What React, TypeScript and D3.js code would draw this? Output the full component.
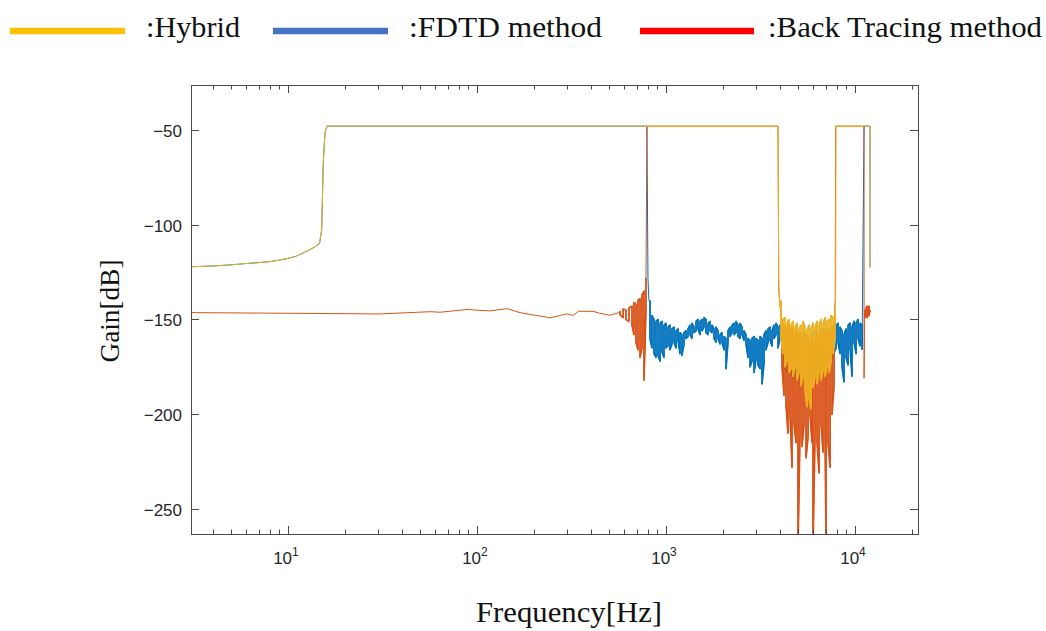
import React from 'react';
import * as d3 from 'd3';

const W = 1046;
const H = 631;
const BOX = { left: 191, right: 918, top: 85, bottom: 534 };

const freqDomain: [number, number] = [3.07, 21544];
const gainDomain: [number, number] = [-263.2, -26.3];
const yTickValues = [-250, -200, -150, -100, -50];
const xTickExponents = [1, 2, 3, 4];

const plateau = -48;

// FDTD / Hybrid shared low-frequency rise
const lowFreq = [3.07, 4, 5, 6, 7, 8, 9, 10, 11, 12, 13, 14, 14.7, 15.08, 15.38, 15.7, 16.1];
const lowGain = [-122.2, -121.8, -121.2, -120.5, -120, -119.5, -118.7, -117.8, -116.7, -115, -113.3, -111.5, -109.8, -102.8, -67.5, -51.7, -48];

// Back tracing: low-frequency floor
const btLowFreq = [3.09, 9.07, 30.7, 56.6, 63.7, 91.8, 95.6, 117, 144, 169, 190, 234, 242, 297, 324, 344, 410, 446, 505, 560];
const btLowGain = [-146.4, -146.7, -147.1, -145.9, -146.2, -144.6, -145, -145.5, -144.3, -146.4, -147.3, -148.8, -149.2, -147.1, -147.8, -145.7, -145.7, -146.7, -147.8, -146.5];

// [freq, upper, lower]
const btPreNoise: [number, number, number][] = [
  [571, -145.5, -147.5], [593, -144.5, -149], [614, -145, -150], [637, -144, -151],
  [661, -143, -153], [677, -141, -158], [694, -142, -162], [711, -140, -166],
  [729, -139, -170], [747, -137, -165], [765, -135, -182], [784, -128, -145],
];

const btMidNoise: [number, number, number][] = [
  [4111, -150, -175], [4212, -153, -190], [4316, -155, -195], [4423, -152, -210],
  [4532, -156, -200], [4644, -154, -228], [4758, -158, -205], [4876, -155, -215],
  [4996, -160, -270], [5119, -157, -210], [5246, -159, -217], [5375, -162, -205],
  [5508, -158, -223], [5644, -160, -212], [5783, -163, -200], [5926, -159, -215],
  [5997, -165, -270], [6148, -160, -210], [6298, -158, -215], [6453, -161, -231],
  [6612, -157, -205], [6775, -159, -220], [6943, -156, -210], [7028, -158, -270],
  [7201, -155, -215], [7379, -157, -228], [7561, -154, -200], [7747, -152, -185],
];

const btEndNoise: [number, number, number][] = [
  [11300, -145, -149], [11442, -144, -148], [11600, -143, -149], [11724, -144, -147],
  [11870, -143, -148], [12013, -145, -145],
];

const fdtdNoise: [number, number, number][] = [
  [823, -140, -160], [843, -148, -165], [864, -150, -168], [885, -151, -170],
  [907, -150, -169], [930, -152, -172], [953, -151, -167], [976, -153, -170],
  [1000, -152, -165], [1025, -154, -164], [1050, -153, -166], [1076, -155, -163],
  [1103, -154, -162], [1130, -156, -165], [1158, -155, -161], [1186, -157, -168],
  [1215, -158, -169], [1245, -157, -163], [1276, -156, -160], [1308, -155, -159],
  [1340, -153, -158], [1373, -152, -160], [1407, -154, -157], [1442, -151, -156],
  [1477, -150, -155], [1514, -151, -158], [1551, -150, -156], [1589, -149, -154],
  [1628, -150, -157], [1669, -152, -158], [1710, -151, -156], [1752, -153, -157],
  [1795, -155, -160], [1839, -154, -162], [1885, -156, -160], [1931, -158, -163],
  [1979, -157, -162], [2028, -159, -166], [2078, -160, -176], [2129, -156, -162],
  [2182, -154, -159], [2235, -153, -157], [2291, -152, -158], [2347, -151, -157],
  [2405, -153, -159], [2464, -152, -160], [2525, -154, -158], [2587, -156, -161],
  [2651, -158, -163], [2717, -160, -170], [2784, -161, -175], [2852, -160, -172],
  [2923, -159, -178], [2995, -160, -171], [3069, -161, -174], [3144, -159, -176],
  [3222, -160, -184], [3301, -158, -173], [3383, -156, -166], [3466, -155, -162],
  [3552, -154, -161], [3639, -156, -164], [3729, -153, -160], [3821, -152, -158],
  [3916, -154, -165], [4012, -153, -160], [4212, -157, -175], [4423, -155, -178],
  [4644, -158, -180], [4876, -156, -182], [5119, -160, -185], [5375, -157, -178],
  [5644, -159, -183], [5926, -158, -180], [6222, -156, -176], [6532, -157, -179],
  [6859, -155, -172], [7201, -156, -175], [7561, -154, -170], [7939, -153, -165],
  [8134, -152, -162], [8335, -154, -168], [8541, -156, -175], [8751, -158, -183],
  [8967, -155, -170], [9189, -153, -174], [9415, -152, -165], [9647, -154, -180],
  [9885, -151, -162], [10129, -152, -168], [10379, -150, -160], [10635, -152, -164],
  [10897, -153, -166],
];

const hybridNoise: [number, number, number][] = [
  [4061, -140, -160], [4161, -150, -168], [4264, -149, -175], [4369, -152, -172],
  [4477, -150, -178], [4588, -153, -176], [4701, -151, -180], [4817, -154, -175],
  [4935, -152, -182], [5057, -155, -178], [5182, -153, -185], [5310, -151, -180],
  [5441, -154, -188], [5575, -156, -196], [5713, -153, -192], [5854, -155, -197],
  [5997, -152, -186], [6148, -154, -180], [6298, -151, -184], [6453, -153, -178],
  [6612, -150, -182], [6775, -152, -177], [6943, -149, -180], [7114, -151, -175],
  [7289, -150, -178], [7469, -148, -172], [7653, -149, -168], [7842, -145, -160],
];

type P = [number, number];

function zigzag(rows: [number, number, number][]): P[] {
  const out: P[] = [];
  rows.forEach(([f, hi, lo], i) => {
    if (i % 2 === 0) {
      out.push([f, hi], [f, lo]);
    } else {
      out.push([f, lo], [f, hi]);
    }
  });
  return out;
}

function pairs(fs: number[], gs: number[]): P[] {
  return fs.map((f, i) => [f, gs[i]] as P);
}

const lowCurve = pairs(lowFreq, lowGain);

const fdtdSeries: P[] = [
  ...lowCurve,
  [793, plateau],
  [803, -128],
  [812, -140],
  ...zigzag(fdtdNoise),
  [11166, plateau],
  [12013, plateau],
  [12013, -122.5],
];

const btSeries: P[] = [
  ...pairs(btLowFreq, btLowGain),
  ...zigzag(btPreNoise),
  [793, plateau],
  [3915, plateau],
  [3950, -135],
  [4060, -148],
  ...zigzag(btMidNoise),
  [7860, -140],
  [7900, plateau],
  [11166, plateau],
  [11166, -181],
  [11250, -150],
  ...zigzag(btEndNoise),
];

const hybridSeries: P[] = [
  ...lowCurve,
  [3915, plateau],
  [3950, -130],
  [4000, -143],
  ...zigzag(hybridNoise),
  [7900, -140],
  [7938, plateau],
  [12013, plateau],
  [12013, -122.5],
];

const legendItems = [
  { label: ':Hybrid', color: '#FFC000', x1: 10, x2: 125, tx: 146, len: 94 },
  { label: ':FDTD method', color: '#4472C4', x1: 273, x2: 388, tx: 409, len: 193 },
  { label: ':Back Tracing method', color: '#FF0000', x1: 640, x2: 754, tx: 768, len: 274 },
];

const AX = '#4a4a4a';

export default function App() {
  const x = d3.scaleLog().domain(freqDomain).range([BOX.left, BOX.right]);
  const y = d3.scaleLinear().domain(gainDomain).range([BOX.bottom, BOX.top]);
  const line = d3
    .line<P>()
    .x((d) => x(d[0]))
    .y((d) => y(d[1]));

  const majorTicks = xTickExponents.map((e) => Math.pow(10, e));
  const minorTicks = x.ticks().filter((t) => {
    const lg = Math.log10(t);
    return Math.abs(lg - Math.round(lg)) > 1e-9;
  });

  const layers = [
    { data: fdtdSeries, noise: [fdtdNoise], color: '#0072BD' },
    { data: btSeries, noise: [btPreNoise, btMidNoise, btEndNoise], color: '#D95319' },
    { data: hybridSeries, noise: [hybridNoise], color: '#EDB120' },
  ];

  return (
    <svg
      width={W}
      height={H}
      style={{ position: 'absolute', left: 0, top: 0, background: '#fff' }}
    >
      <defs>
        <clipPath id="plotClip">
          <rect x={BOX.left} y={BOX.top} width={BOX.right - BOX.left} height={BOX.bottom - BOX.top} />
        </clipPath>
      </defs>
      <rect x={0} y={0} width={W} height={H} fill="#fff" />

      {/* legend */}
      {legendItems.map((it) => (
        <g key={it.label}>
          <line x1={it.x1} x2={it.x2} y1={31} y2={31} stroke={it.color} strokeWidth={6.5} />
          <text
            x={it.tx}
            y={37}
            fontFamily="'Liberation Serif', 'Times New Roman', serif"
            fontSize={30}
            fill="#111"
            textLength={it.len}
            lengthAdjust="spacingAndGlyphs"
          >
            {it.label}
          </text>
        </g>
      ))}

      {/* data */}
      <g clipPath="url(#plotClip)">
        {layers.map((s, i) => (
          <g key={i}>
            <path d={line(s.data) || ''} fill="none" stroke={s.color} strokeWidth={1} strokeLinejoin="round" />
            {s.noise.map((rows, j) => (
              <path
                key={j}
                d={line(zigzag(rows)) || ''}
                fill="none"
                stroke={s.color}
                strokeWidth={1.7}
                strokeLinejoin="round"
              />
            ))}
          </g>
        ))}
      </g>

      {/* box */}
      <rect
        x={BOX.left + 0.5}
        y={BOX.top + 0.5}
        width={BOX.right - BOX.left}
        height={BOX.bottom - BOX.top}
        fill="none"
        stroke={AX}
        strokeWidth={1}
      />

      {/* x ticks */}
      {majorTicks.map((t) => {
        const px = Math.round(x(t)) + 0.5;
        return (
          <g key={'M' + t}>
            <line x1={px} x2={px} y1={BOX.bottom} y2={BOX.bottom - 8} stroke={AX} />
            <line x1={px} x2={px} y1={BOX.top} y2={BOX.top + 8} stroke={AX} />
          </g>
        );
      })}
      {minorTicks.map((t) => {
        const px = Math.round(x(t)) + 0.5;
        return (
          <g key={'m' + t}>
            <line x1={px} x2={px} y1={BOX.bottom} y2={BOX.bottom - 4.5} stroke={AX} />
            <line x1={px} x2={px} y1={BOX.top} y2={BOX.top + 4.5} stroke={AX} />
          </g>
        );
      })}
      {xTickExponents.map((e) => (
        <text
          key={'xl' + e}
          x={x(Math.pow(10, e)) - 2}
          y={564}
          textAnchor="middle"
          fontFamily="'Liberation Sans', Arial, sans-serif"
          fontSize={17}
          fill="#262626"
        >
          10
          <tspan dy={-8} fontSize={12}>
            {e}
          </tspan>
        </text>
      ))}

      {/* y ticks */}
      {yTickValues.map((v) => {
        const py = Math.round(y(v)) + 0.5;
        return (
          <g key={'y' + v}>
            <line x1={BOX.left} x2={BOX.left + 8} y1={py} y2={py} stroke={AX} />
            <line x1={BOX.right} x2={BOX.right - 8} y1={py} y2={py} stroke={AX} />
            <text
              x={182}
              y={py + 6}
              textAnchor="end"
              fontFamily="'Liberation Sans', Arial, sans-serif"
              fontSize={17}
              fill="#262626"
            >
              {'\u2212' + Math.abs(v)}
            </text>
          </g>
        );
      })}

      {/* axis labels */}
      <text
        x={569}
        y={622}
        textAnchor="middle"
        fontFamily="'Liberation Serif', 'Times New Roman', serif"
        fontSize={29}
        fill="#111"
        textLength={186}
        lengthAdjust="spacingAndGlyphs"
      >
        Frequency[Hz]
      </text>
      <text
        transform="translate(119,311) rotate(-90)"
        textAnchor="middle"
        fontFamily="'Liberation Serif', 'Times New Roman', serif"
        fontSize={28}
        fill="#111"
        textLength={103}
        lengthAdjust="spacingAndGlyphs"
      >
        Gain[dB]
      </text>
    </svg>
  );
}
